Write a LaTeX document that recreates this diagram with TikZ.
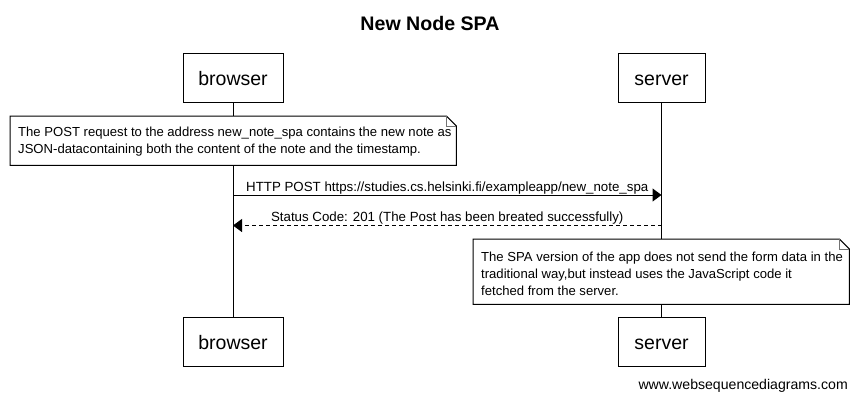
\documentclass[tikz,border=0pt]{standalone}
\usepackage{fontspec}
\setmainfont{Liberation Sans}
\usetikzlibrary{arrows.meta}
\begin{document}
\begin{tikzpicture}[x=1pt,y=-1pt,
  actor/.style={draw, line width=1pt, minimum height=49pt, inner sep=0pt,
    text height=15.5pt, text depth=0pt,
    font=\fontsize{19.5}{22}\selectfont, fill=white},
  notebox/.style={fill=white, inner sep=0pt},
  notetext/.style={anchor=west, inner sep=0pt, align=left,
    font=\fontsize{13.1}{17}\selectfont},
  noteline/.style={line width=1pt},
  foldline/.style={line width=0.8pt, draw=black!55},
  lifeline/.style={line width=1pt},
  msg/.style={line width=1pt, -{Triangle[length=9pt,width=13pt]}},
  reply/.style={msg, dash pattern=on 4pt off 3pt},
  lbl/.style={font=\fontsize{13.3}{15}\selectfont, anchor=base, inner sep=0pt, yshift=4pt}
]
\useasboundingbox (0,0) rectangle (858,400);
\fill[white] (0,0) rectangle (858,400);

\node[font=\bfseries\fontsize{19.6}{22}\selectfont] (title) at (430,23) {New Node SPA};

\node[actor, minimum width=100pt] (browser) at (233,77.5) {browser};
\node[actor, minimum width=87pt] (server) at (661.5,77.5) {server};
\node[actor, minimum width=100pt] (browserb) at (233,341.5) {browser};
\node[actor, minimum width=87pt] (serverb) at (661.5,341.5) {server};

\draw[lifeline] (browser.south) -- (browserb.north);
\draw[lifeline] (server.south) -- (serverb.north);

% note 1
\node[notebox, anchor=north west, minimum width=446pt, minimum height=49pt] (note1) at (10,116) {};
\draw[noteline] (note1.north west) -- ([xshift=-10pt]note1.north east) -- ([yshift=-10pt]note1.north east) -- (note1.south east) -- (note1.south west) -- cycle;
\draw[foldline] ([xshift=-10pt]note1.north east) -- ([xshift=-10pt,yshift=-10pt]note1.north east) -- ([yshift=-10pt]note1.north east);
\node[notetext] (note1t) at ([xshift=8pt,yshift=-0.5pt]note1.west)
  {The POST request to the address new\_note\_spa contains the new note as\\JSON-datacontaining both the content of the note and the timestamp.};

% messages
\coordinate (m1) at (0,195);
\coordinate (m2) at (0,225.5);
\draw[msg] (browser.south |- m1) -- node[lbl] (l1) {HTTP POST https://studies.cs.helsinki.fi/exampleapp/new\_note\_spa} (server.south |- m1);
\draw[reply] (server.south |- m2) -- node[lbl] (l2) {Status Code: 201 (The Post has been breated successfully)} (browser.south |- m2);

% note 2
\node[notebox, anchor=north west, minimum width=376pt, minimum height=65pt] (note2) at (473,239) {};
\draw[noteline] (note2.north west) -- ([xshift=-10pt]note2.north east) -- ([yshift=-10pt]note2.north east) -- (note2.south east) -- (note2.south west) -- cycle;
\draw[foldline] ([xshift=-10pt]note2.north east) -- ([xshift=-10pt,yshift=-10pt]note2.north east) -- ([yshift=-10pt]note2.north east);
\node[notetext] (note2t) at ([xshift=8pt,yshift=-2.5pt]note2.west)
  {The SPA version of the app does not send the form data in the\\traditional way,but instead uses the JavaScript code it\\fetched from the server.};

\node[font=\fontsize{14.1}{16}\selectfont, anchor=base east, inner sep=0pt] (wm) at (848,389) {www.websequencediagrams.com};
\end{tikzpicture}
\end{document}
